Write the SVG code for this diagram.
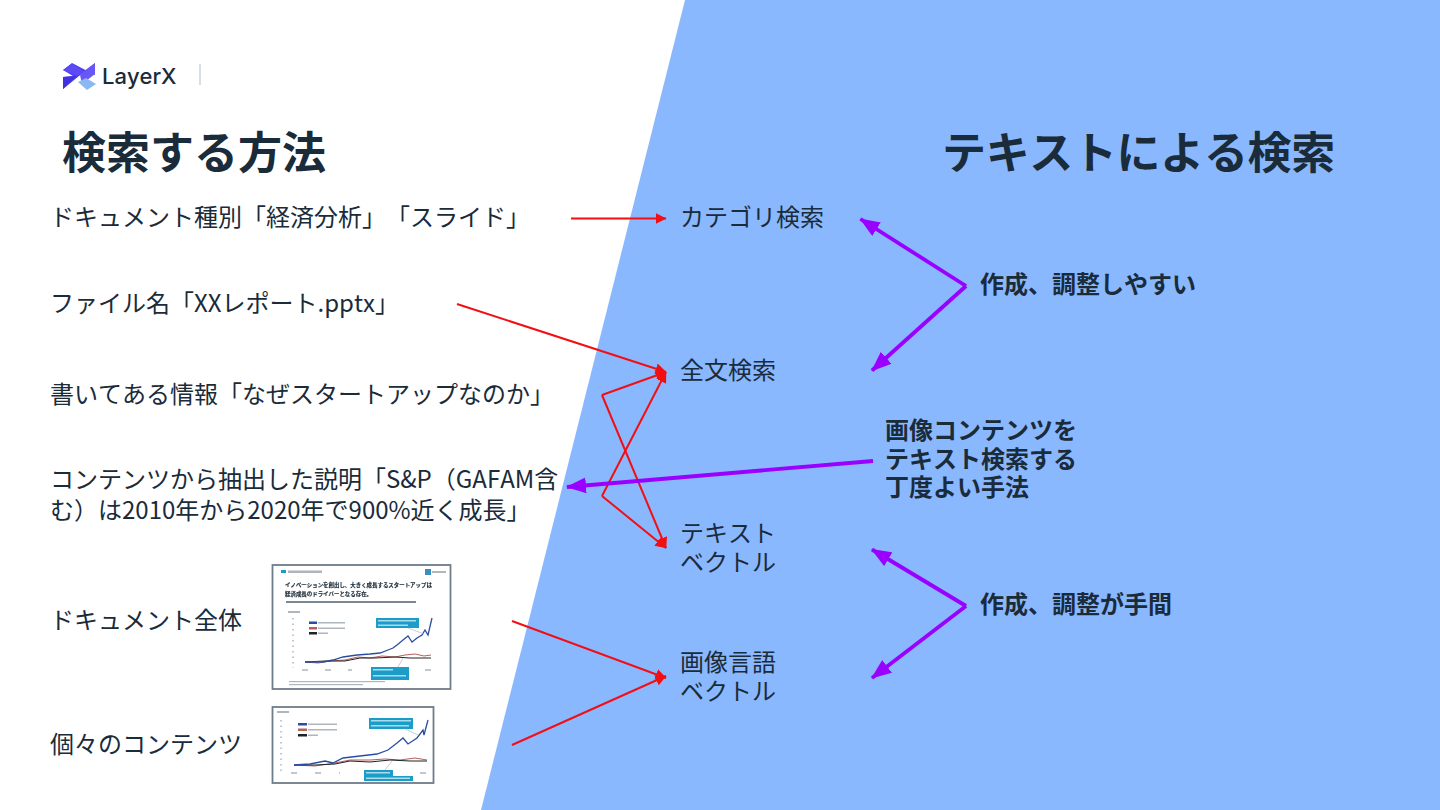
<svg xmlns="http://www.w3.org/2000/svg" width="1440" height="810" viewBox="0 0 1440 810">
<style>
text{font-family:"Noto Sans CJK JP","Noto Sans",sans-serif;fill:#1a2b3a;text-spacing-trim:space-all;font-kerning:none}
.t{font-size:24px}
.h{font-size:44px;font-weight:700}
.b{font-size:24px;font-weight:700}
.r{stroke:#f20f14;stroke-width:2;fill:none}
.p{stroke:#9900ff;stroke-width:3.800;fill:none}
.blue{stroke:#2b4ea0;stroke-width:1.300;fill:none}
.red{stroke:#b5605c;stroke-width:1;fill:none}
.blk{stroke:#222;stroke-width:1;fill:none}
.tag{fill:#1b9cc9}
.tiny{fill:#aeb6be}
.wl{fill:#a9dcec}
.tl{stroke:#9cb0bc;stroke-width:.6;fill:none}
.ax{stroke:#aeb6be;stroke-width:1.500;stroke-dasharray:1.500 4;fill:none}
.thumb{filter:url(#soft)}
.tt{font-size:5.450px;font-weight:700;stroke:#1a2b3a;stroke-width:.15}
</style>
<defs>
<filter id="soft" x="-5%" y="-5%" width="110%" height="110%"><feGaussianBlur stdDeviation="0.35"/></filter>
<marker id="ar" markerUnits="userSpaceOnUse" markerWidth="11" markerHeight="11" refX="10.500" refY="5.500" orient="auto"><path d="M0 0L11 5.500L0 11Z" fill="#f20f14"/></marker>
<marker id="ap" markerUnits="userSpaceOnUse" markerWidth="20" markerHeight="16" refX="19" refY="8" orient="auto"><path d="M0 0L20 8L0 16Z" fill="#9900ff"/></marker>
</defs>
<rect width="1440" height="810" fill="#fff"/>
<polygon points="685,0 1440,0 1440,810 481,810" fill="#8ab8ff"/>
<g id="logo">
<polygon points="63,70 72,63 95,75 95,63 63,89 63,77 73,76" fill="#4f3df0"/>
<polygon points="72,64 84,71 77,76 63,70" fill="#5b4af5"/>
<polygon points="84,71 95,63 95,74 82,84 80,75" fill="#6a56f7"/>
<polygon points="63,77 77,76 63,89" fill="#4330e0"/>
<polygon points="78,82 86,78 96,84 87,90" fill="#8ab8f5"/>
<text x="102" y="84" style="font-family:Inter,'Noto Sans',sans-serif;font-size:22px;font-weight:500">LayerX</text>
<rect x="199" y="64" width="2" height="21" fill="#d5dee6"/>
</g>
<text id="title-left" class="h" x="62" y="169">検索する方法</text>
<text id="title-right" class="h" x="942" y="169" style="letter-spacing:-.35px">テキストによる検索</text>
<g id="connectors">
<path class="r" marker-end="url(#ar)" d="M571 218.500H666"/>
<path class="r" marker-end="url(#ar)" d="M457 304L666 372"/>
<path class="r" marker-end="url(#ar)" d="M602 395L666 372"/>
<path class="r" marker-end="url(#ar)" d="M602 395L666 548"/>
<path class="r" marker-end="url(#ar)" d="M602 496L666 372"/>
<path class="r" marker-end="url(#ar)" d="M602 496L666 548"/>
<path class="r" marker-end="url(#ar)" d="M512 621L666 678"/>
<path class="r" marker-end="url(#ar)" d="M512 745L666 676"/>
<path class="p" marker-end="url(#ap)" d="M966 286L860.500 219"/>
<path class="p" marker-end="url(#ap)" d="M966 286L872 370.500"/>
<path class="p" marker-end="url(#ap)" d="M966 606L872 549.500"/>
<path class="p" marker-end="url(#ap)" d="M966 606L872 678"/>
<path class="p" marker-end="url(#ap)" d="M873 461L567 487"/>
</g>
<g id="left-labels">
<text class="t" x="50" y="226">ドキュメント種別「経済分析」「スライド」</text>
<text class="t" x="50" y="312">ファイル名「XXレポート.pptx」</text>
<text class="t" x="50" y="403">書いてある情報「なぜスタートアップなのか」</text>
<text class="t" x="50" y="488">コンテンツから抽出した説明「S&amp;P（GAFAM含<tspan x="50" dy="31">む）は2010年から2020年で900%近く成長」</tspan></text>
<text class="t" x="50" y="629">ドキュメント全体</text>
<text class="t" x="50" y="753">個々のコンテンツ</text>
</g>
<g id="node-category"><text class="t" x="680" y="226">カテゴリ検索</text></g>
<g id="node-fulltext"><text class="t" x="680" y="379">全文検索</text></g>
<g id="node-textvec"><text class="t" x="680" y="542">テキスト<tspan x="680" dy="29">ベクトル</tspan></text></g>
<g id="node-imgvec"><text class="t" x="680" y="671">画像言語<tspan x="680" dy="29">ベクトル</tspan></text></g>
<g id="note-easy"><text class="b" x="980" y="293">作成、調整しやすい</text></g>
<g id="note-image"><text class="b" x="885" y="439">画像コンテンツを<tspan x="885" dy="28.500">テキスト検索する</tspan><tspan x="885" dy="28.500">丁度よい手法</tspan></text></g>
<g id="note-hard"><text class="b" x="980" y="613">作成、調整が手間</text></g>
<g id="thumb-doc" class="thumb">
<rect x="272.500" y="565" width="178" height="124" fill="#fff" stroke="#6e7d8a" stroke-width="1.800"/>
<rect x="281" y="570" width="5" height="3" fill="#1b9cc9"/>
<rect x="288" y="570.500" width="34" height="2.500" class="tiny"/>
<rect x="425" y="569" width="6" height="6" fill="#3a8fc0"/><rect x="432" y="571" width="14" height="2" class="tiny"/>
<text class="tt" x="285" y="587">イノベーションを創出し、大きく成長するスタートアップは</text>
<text class="tt" x="285" y="596">経済成長のドライバーとなる存在。</text>
<rect x="286" y="601" width="130" height="2" fill="#7d8791"/>
<rect x="288" y="611" width="12" height="2" class="tiny"/>
<path class="ax" d="M293 618V668"/>
<path class="ax" d="M302 670H352M425 670H431" style="stroke-dasharray:6 17"/>
<rect x="309" y="621.500" width="8" height="2.500" fill="#2b4ea0"/><rect x="318" y="622" width="27" height="1.500" class="tiny"/>
<rect x="309" y="627" width="8" height="2.500" fill="#b5605c"/><rect x="318" y="627.500" width="27" height="1.500" class="tiny"/>
<rect x="309" y="632" width="8" height="2.500" fill="#222"/><rect x="318" y="632.500" width="10" height="1.500" class="tiny"/>
<path class="red" d="M305 662L318 663L330 661L345 660L358 657L370 658L382 656L395 657L405 655L415 654L424 656L431 655"/>
<path class="blk" d="M305 662L325 661L345 661L360 658L375 658L395 657L410 658L431 658"/>
<path class="blue" d="M305 662L313 662L323 662L333 660L343 657L350 656L357 655L370 654L380 653L388 650L393 648L397 645L403 640L408 636L412 642L417 638L422 635L425 630L428 635L432 618"/>
<rect x="376" y="618" width="43" height="10" class="tag"/>
<rect x="378" y="620" width="38" height="1.500" class="wl"/><rect x="378" y="624.500" width="30" height="1.500" class="wl"/>
<path class="tl" d="M408 628L424 634"/>
<rect x="371" y="667" width="38" height="13" class="tag"/>
<rect x="373" y="669" width="20" height="1.500" class="wl"/><rect x="373" y="675" width="33" height="1.500" class="wl"/>
<path class="tl" d="M398 667L403 658"/>
<rect x="289" y="681" width="96" height="1.200" class="tiny"/><rect x="289" y="684" width="74" height="1.200" class="tiny"/>
</g>
<g id="thumb-content" class="thumb">
<rect x="272.500" y="707" width="161" height="76" fill="#fff" stroke="#6e7d8a" stroke-width="1.800"/>
<rect x="277" y="711" width="12" height="2" class="tiny"/>
<path class="ax" d="M281 720V771"/>
<path class="ax" d="M291 773H340M420 773H428" style="stroke-dasharray:6 18"/>
<rect x="298" y="723" width="9" height="2.500" fill="#2b4ea0"/><rect x="308" y="723.500" width="29" height="1.500" class="tiny"/>
<rect x="298" y="728.500" width="9" height="2.500" fill="#b5605c"/><rect x="308" y="729" width="29" height="1.500" class="tiny"/>
<rect x="298" y="734" width="9" height="2.500" fill="#222"/><rect x="308" y="734.500" width="10" height="1.500" class="tiny"/>
<path class="red" d="M294 765L315 766L335 763L350 760L370 760L385 759L400 760L415 758L427 760"/>
<path class="blk" d="M294 765L315 765L335 764L350 761L370 762L390 760L410 761L427 761"/>
<path class="blue" d="M294 765L310 764L325 761L333 763L343 758L360 756L377 754L388 750L397 743L403 738L408 744L417 738L423 730L424 735L428 720"/>
<rect x="369" y="718" width="44" height="11" class="tag"/>
<rect x="371" y="720" width="40" height="1.500" class="wl"/><rect x="371" y="725" width="38" height="1.500" class="wl"/>
<path class="tl" d="M405 729L418 735"/>
<rect x="364" y="770" width="29" height="6" class="tag"/><rect x="364" y="776" width="49" height="5" class="tag"/>
<rect x="366" y="772" width="24" height="1.500" class="wl"/><rect x="366" y="777.500" width="44" height="1.500" class="wl"/>
<path class="tl" d="M385 770L392 761"/>
</g>
</svg>
